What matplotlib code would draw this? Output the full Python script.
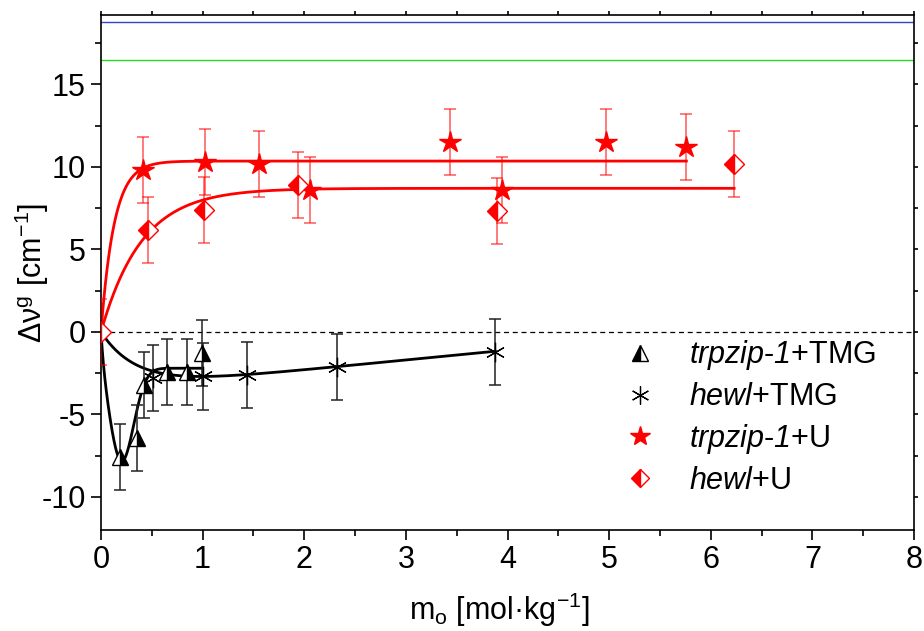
import numpy as np
import matplotlib
matplotlib.use("Agg")
import matplotlib.pyplot as plt
from matplotlib.lines import Line2D

plt.rcParams['font.family'] = ['Liberation Sans', 'DejaVu Sans']
plt.rcParams['mathtext.fontset'] = 'custom'
plt.rcParams['mathtext.rm'] = 'Liberation Sans'
plt.rcParams['mathtext.it'] = 'Liberation Sans:italic'
plt.rcParams['mathtext.sf'] = 'Liberation Sans:italic'
plt.rcParams['axes.unicode_minus'] = False

# ---- data ----
trpzip_tmg_x = [0.19, 0.35, 0.42, 0.65, 0.85, 0.99]
trpzip_tmg_y = [-7.6, -6.4, -3.2, -2.4, -2.4, -1.3]
trpzip_tmg_err = [2.0, 2.0, 2.0, 2.0, 2.0, 2.0]

hewl_tmg_x = [0.51, 1.00, 1.44, 2.32, 3.88]
hewl_tmg_y = [-2.8, -2.7, -2.6, -2.1, -1.2]
hewl_tmg_err = [2.0, 2.0, 2.0, 2.0, 2.0]

trpzip_u_x = [0.41, 1.02, 1.55, 2.06, 3.43, 3.95, 4.97, 5.76]
trpzip_u_y = [9.8, 10.3, 10.2, 8.6, 11.5, 8.6, 11.5, 11.2]
trpzip_u_err = [2.0, 2.0, 2.0, 2.0, 2.0, 2.0, 2.0, 2.0]

hewl_u_x = [0.0, 0.46, 1.01, 1.94, 3.90, 6.23]
hewl_u_y = [0.0, 6.2, 7.4, 8.9, 7.3, 10.2]
hewl_u_err = [2.0, 2.0, 2.0, 2.0, 2.0, 2.0]

ref_blue = 18.8
ref_green = 16.5

# fit-model parameters (curves drawn from these)
fit_trpzip_u = dict(A=10.35, t=0.13, xmax=5.76)
fit_hewl_u = dict(A=8.7, t=0.40, xmax=6.23)
fit_hewl_tmg = dict(a=-3.5, t=0.35, b=0.6, xmax=3.88)
fit_trpzip_tmg = dict(c=-2.2, ta=0.08, D=5.8, x0=0.2, w=0.17, s=0.02, xmax=1.0)

labels = [r'$\mathsf{trpzip}$-$\mathsf{1}$+TMG', r'$\mathsf{hewl}$+TMG',
          r'$\mathsf{trpzip}$-$\mathsf{1}$+U', r'$\mathsf{hewl}$+U']

FS = 22

fig = plt.figure(figsize=(9.24, 6.31), dpi=100)
ax = fig.add_axes([101/924, 1-530/631, (914-101)/924, (530-15)/631])

ax.set_xlim(0, 8)
ax.set_ylim(-12, 19.2)

# reference lines
ax.axhline(ref_blue, color='#3344cc', lw=1.0, zorder=1)
ax.axhline(ref_green, color='#22dd22', lw=1.0, zorder=1)
ax.axhline(0, color='black', lw=0.9, ls=(0, (4, 3)), zorder=1)

# fit curves
p = fit_trpzip_u
x = np.linspace(0, p['xmax'], 400)
ax.plot(x, p['A']*(1-np.exp(-x/p['t'])), color='red', lw=2.0, zorder=2)
p = fit_hewl_u
x = np.linspace(0, p['xmax'], 400)
ax.plot(x, p['A']*(1-np.exp(-x/p['t'])), color='red', lw=2.0, zorder=2)
p = fit_hewl_tmg
x = np.linspace(0, p['xmax'], 400)
ax.plot(x, p['a']*(1-np.exp(-x/p['t'])) + p['b']*x, color='black', lw=2.0, zorder=2)
p = fit_trpzip_tmg
x = np.linspace(0, p['xmax'], 600)
yv = p['c']*(1-np.exp(-x/p['ta'])) - p['D']*np.exp(-((x-p['x0'])/p['w'])**2)*(1-np.exp(-x/p['s']))
ax.plot(x, yv, color='black', lw=2.0, zorder=2)

# error bars
ekw = dict(fmt='none', capsize=4, elinewidth=1.1, capthick=1.1, zorder=3)
ax.errorbar(trpzip_tmg_x, trpzip_tmg_y, yerr=trpzip_tmg_err, ecolor='#222222', **ekw)
ax.errorbar(hewl_tmg_x, hewl_tmg_y, yerr=hewl_tmg_err, ecolor='#222222', **ekw)
ax.errorbar(trpzip_u_x, trpzip_u_y, yerr=trpzip_u_err, ecolor=(1, 0, 0, 0.65), **ekw)
ax.errorbar(hewl_u_x, hewl_u_y, yerr=hewl_u_err, ecolor=(1, 0, 0, 0.65), **ekw)

# markers
ax.plot(trpzip_tmg_x, trpzip_tmg_y, ls='none', marker='^', ms=12, fillstyle='right',
        color='black', markerfacecoloralt='white', markeredgecolor='black', mew=1.0, zorder=4)
ax.plot(hewl_tmg_x, hewl_tmg_y, ls='none', marker=(6, 2, 0), ms=14, color='black',
        mew=0.9, zorder=4)
ax.plot(trpzip_u_x, trpzip_u_y, ls='none', marker='*', ms=16, color='red',
        markeredgecolor='red', zorder=4)
ax.plot(hewl_u_x, hewl_u_y, ls='none', marker='D', ms=10, fillstyle='left', color='red',
        markerfacecoloralt='white', markeredgecolor='red', mew=1.0, zorder=4)

# legend
handles = [
    Line2D([], [], ls='none', marker='^', ms=11, fillstyle='left', color='black',
           markerfacecoloralt='white', markeredgecolor='black', mew=1.0),
    Line2D([], [], ls='none', marker=(6, 2, 0), ms=13, color='black', mew=0.9),
    Line2D([], [], ls='none', marker='*', ms=15, color='red', markeredgecolor='red'),
    Line2D([], [], ls='none', marker='D', ms=9, fillstyle='left', color='red',
           markerfacecoloralt='white', markeredgecolor='red', mew=1.0),
]
leg = ax.legend(handles, labels, loc='upper left', bbox_to_anchor=(0.648, 0.372),
                frameon=False, fontsize=FS, handlelength=0.8, handletextpad=1.2,
                labelspacing=0.32, borderaxespad=0, borderpad=0)

# ticks and spines
for s in ax.spines.values():
    s.set_linewidth(1.2)
ax.set_xticks(np.arange(0, 9, 1))
ax.set_xticks(np.arange(0, 8.01, 0.5), minor=True)
ax.set_yticks([-10, -5, 0, 5, 10, 15])
ax.set_yticks(np.arange(-10, 19.1, 2.5), minor=True)
ax.tick_params(axis='both', which='major', direction='out', length=7, width=1.2,
               labelsize=FS, pad=4)
ax.tick_params(axis='both', which='minor', direction='out', length=4, width=1.2)
ax.tick_params(top=True, right=True, which='both', labeltop=False, labelright=False)
# short ticks on the top and right spines
for axis in (ax.xaxis, ax.yaxis):
    for tk in axis.get_major_ticks() + axis.get_minor_ticks():
        tk.tick2line.set_markersize(3)

ax.set_ylabel('Δν$^{\\mathrm{g}}$ [cm$^{-1}$]', fontsize=FS)
ax.yaxis.set_label_coords(-0.062, 0.5)
ax.set_xlabel('m$_{\\mathrm{o}}$ [mol·kg$^{-1}$]', fontsize=FS)
ax.xaxis.set_label_coords(0.49, -0.117)

fig.savefig('out.png', dpi=100)
